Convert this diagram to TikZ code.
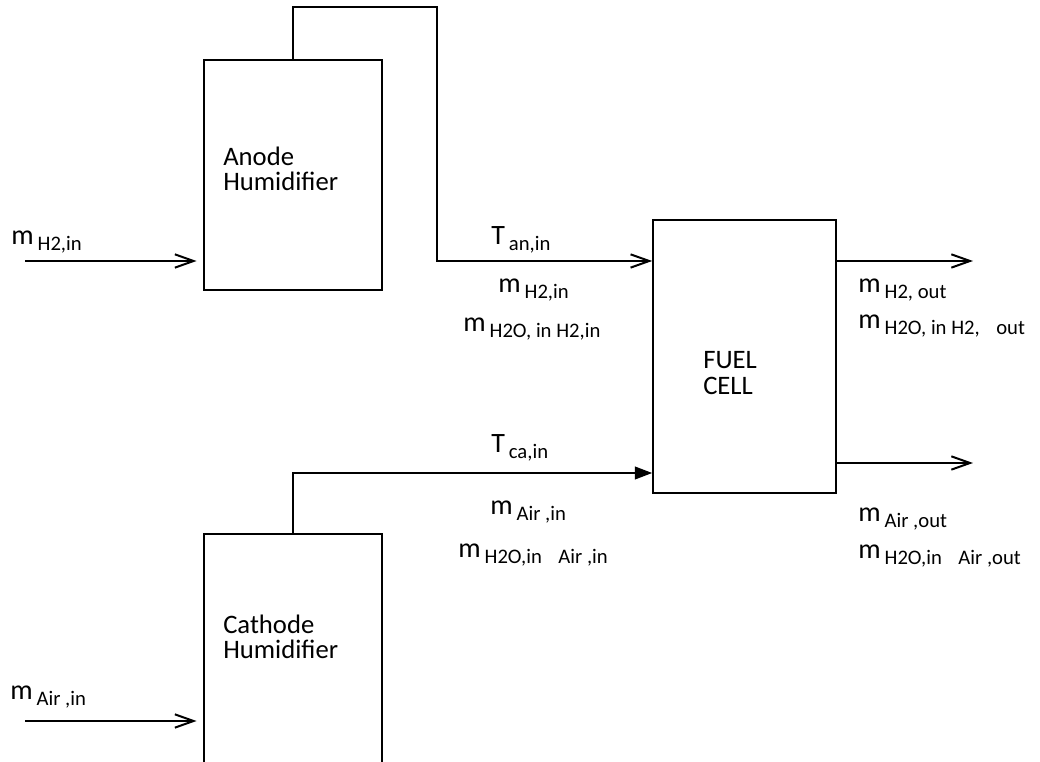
\documentclass[tikz,border=0pt]{standalone}
\usepackage{fontspec}
\setmainfont{Carlito}
\usetikzlibrary{arrows.meta, positioning, calc}

\newcommand{\bigfs}{\fontsize{21}{25}\selectfont}
\newcommand{\subfs}{\fontsize{15.5}{18}\selectfont}
\newcommand{\labfs}{\fontsize{20}{19}\selectfont}
% flow symbol with its lowered index
\newcommand{\flw}[2]{{\bigfs #1}\hspace{3pt}\raisebox{-4.5pt}{\subfs #2}}

\begin{document}
\begin{tikzpicture}[
    x=0.75pt, y=-0.75pt,
    box/.style={draw, line width=1.2pt, inner sep=0pt},
    hum/.style={box, minimum width=133.5pt, minimum height=172.5pt},
    cell/.style={box, minimum width=137.25pt, minimum height=204.75pt},
    txt/.style={anchor=west, align=left, inner sep=0pt, font=\labfs},
    lbl/.style={anchor=base west, inner sep=0pt},
    ar/.style={-{Straight Barb[length=14pt,width=10pt]}, line width=1.5pt},
    arf/.style={-{Triangle[length=13pt,width=9.5pt]}, line width=1.5pt},
]
\useasboundingbox (0,0) rectangle (1040,762);
\clip (0,0) rectangle (1040,762);

% === boxes ===
\node[hum] (anode) at (293,175) {};
\node[txt] (antxt) at (223,169) {Anode\\Humidifier};

\node[hum] (cathode) at (293,649) {};
\node[txt] (catxt) at (223,637) {Cathode\\Humidifier};

\node[cell] (fc) at (744.5,356.5) {};
\node[txt] (fctxt) at (703,373) {FUEL\\CELL};

% === anode side ===
\coordinate (h2src) at (25,261);
\coordinate (anloop) at (437,7);
\path (fc.west) ++(0,-95.5) coordinate (anin);

\draw[ar, shorten >=5pt] (h2src) -- (h2src -| anode.west);
\draw[ar] (anode.north) |- (anloop) |- (anin);

\node[lbl] (lh2in) at (11,245) {\flw{m}{H2,in}};
\node[lbl] (tan) at (491,245) {\flw{T}{an,in}};
\node[lbl] (mh2) at (498,293) {\flw{m}{H2,in}};
\node[lbl] (mh2o) at (463,332) {\flw{m}{H2O, in H2,in}};

% === cathode side ===
\coordinate (airsrc) at (25,721);
\path (fc.west) ++(0,116.5) coordinate (cain);

\draw[ar, shorten >=5pt] (airsrc) -- (airsrc -| cathode.west);
\draw[arf] (cathode.north) |- (cain);

\node[lbl] (lairin) at (10,700) {\flw{m}{Air ,in}};
\node[lbl] (tca) at (491,453) {\flw{T}{ca,in}};
\node[lbl] (mair) at (490,515) {\flw{m}{Air ,in}};
\node[lbl] (mairw) at (458,558) {\flw{m}{H2O,in\hspace{.8em}Air ,in}};

% === outlets ===
\coordinate (h2dst) at (973,261);
\coordinate (airdst) at (973,463);
\draw[ar] (h2dst -| fc.east) -- (h2dst);
\draw[ar] (airdst -| fc.east) -- (airdst);

\node[lbl] (mh2out) at (858,293) {\flw{m}{H2, out}};
\node[lbl] (mh2oout) at (858,329) {\flw{m}{H2O, in H2,\hspace{.8em}out}};
\node[lbl] (mairout) at (858,522) {\flw{m}{Air ,out}};
\node[lbl] (mairwout) at (858,559) {\flw{m}{H2O,in\hspace{.8em}Air ,out}};

\end{tikzpicture}
\end{document}
